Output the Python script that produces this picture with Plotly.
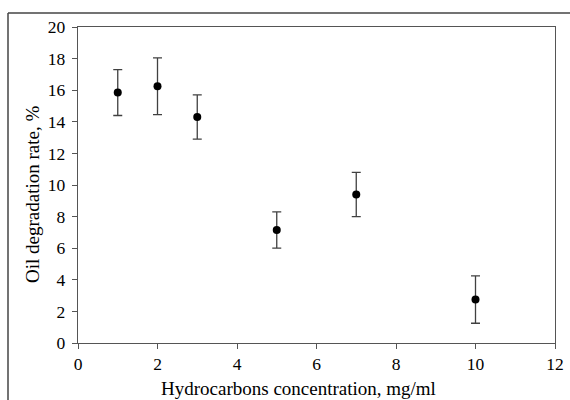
import plotly.graph_objects as go

# Hydrocarbon concentration (mg/ml) vs. oil degradation rate (%) with error
concentration = [1, 2, 3, 5, 7, 10]
degradation = [15.85, 16.25, 14.3, 7.15, 9.4, 2.75]
error = [1.45, 1.8, 1.4, 1.15, 1.4, 1.5]

x_ticks = [0, 2, 4, 6, 8, 10, 12]
y_ticks = [0, 2, 4, 6, 8, 10, 12, 14, 16, 18, 20]

x_title = "Hydrocarbons concentration, mg/ml"
y_title = "Oil degradation rate, %"

serif = "Times New Roman"
axis_color = "#555555"

fig = go.Figure()
fig.add_trace(go.Scatter(
    x=concentration,
    y=degradation,
    mode="markers",
    marker=dict(color="black", size=8),
    error_y=dict(type="data", array=error, visible=True,
                 color="#404040", thickness=1.3, width=4.5),
    cliponaxis=False,
    showlegend=False,
))

L, R, T, B = 78, 15, 27, 57
W, H = 570, 400
pw, ph = W - L - R, H - T - B

axis_common = dict(
    ticks="outside", ticklen=5, tickcolor=axis_color,
    showline=True, linecolor=axis_color, linewidth=1.3,
    mirror=True, showgrid=False, zeroline=False, automargin=False,
    tickfont=dict(family=serif, size=17.5, color="black"),
)

fig.update_layout(
    width=W, height=H,
    margin=dict(l=L, r=R, t=T, b=B),
    paper_bgcolor="white",
    plot_bgcolor="white",
    font=dict(family=serif, color="black", size=17),
    xaxis=dict(range=[0, 12], tickvals=x_ticks, **axis_common),
    yaxis=dict(range=[0, 20], tickvals=y_ticks, ticklabelstandoff=3,
               **axis_common),
)

# Axis titles placed as annotations
fig.add_annotation(text=x_title, xref="paper", yref="paper",
                   x=(298 - L) / pw, y=(H - B - 388) / ph,
                   xanchor="center", yanchor="middle", showarrow=False,
                   font=dict(family=serif, size=19, color="black"))
fig.add_annotation(text=y_title, xref="paper", yref="paper",
                   x=(33 - L) / pw, y=(H - B - 195) / ph, textangle=-90,
                   xanchor="center", yanchor="middle", showarrow=False,
                   font=dict(family=serif, size=19, color="black"))

# Outer frame around the figure (top and left edges visible)
x0 = (8 - L) / pw
y1 = (H - B - 13) / ph
fig.add_shape(type="line", xref="paper", yref="paper",
              x0=x0, x1=(W + 10 - L) / pw, y0=y1, y1=y1,
              line=dict(color="#444444", width=1.5))
fig.add_shape(type="line", xref="paper", yref="paper",
              x0=x0, x1=x0, y0=y1, y1=-(B + 10) / ph,
              line=dict(color="#444444", width=1.5))

fig.write_html("out.html")
